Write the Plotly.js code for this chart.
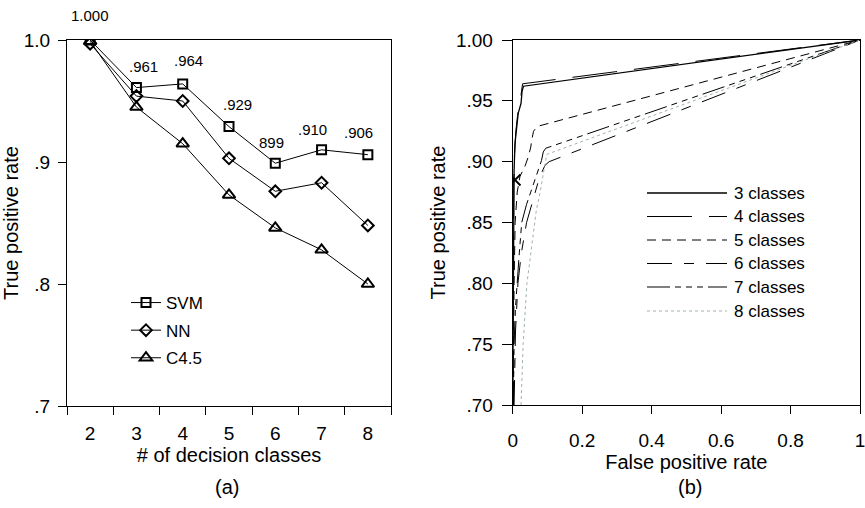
<!DOCTYPE html>
<html><head><meta charset="utf-8">
<script src="https://cdn.plot.ly/plotly-3.0.1.min.js"></script>
<style>html,body{margin:0;padding:0;background:#fff}#chart{width:865px;height:508px}</style>
</head><body><div id="chart"></div>
<script>
// ---- data: panel (a)
const classes = [2, 3, 4, 5, 6, 7, 8];
const svm = [1.000, 0.961, 0.964, 0.929, 0.899, 0.910, 0.906];
const nn  = [0.997, 0.954, 0.950, 0.903, 0.876, 0.883, 0.848];
const c45 = [0.999, 0.945, 0.915, 0.873, 0.846, 0.828, 0.800];
const svmLabels = ['1.000', '.961', '.964', '.929', '899', '.910', '.906'];
const yTicksA = [0.7, 0.8, 0.9, 1.0];
const yTickTextA = ['.7', '.8', '.9', '1.0'];

// ---- data: panel (b) ROC curves
const fpr3 = [0.000, 0.001, 0.002, 0.004, 0.0066, 0.0115, 0.016, 0.024, 0.027, 0.031, 1.0];
const tpr3 = [0.700, 0.800, 0.860, 0.893, 0.915, 0.929, 0.940, 0.948, 0.958, 0.962, 1.0];
const fpr4 = [0.000, 0.001, 0.003, 0.005, 0.009, 0.014, 0.021, 0.024, 0.0285, 1.0];
const tpr4 = [0.700, 0.820, 0.880, 0.905, 0.925, 0.938, 0.948, 0.955, 0.964, 1.0];
const fpr5 = [0.001, 0.002, 0.004, 0.007, 0.013, 0.021, 0.028, 0.035, 0.045, 0.052, 0.055, 0.060, 0.071, 1.0];
const tpr5 = [0.700, 0.760, 0.800, 0.850, 0.875, 0.888, 0.892, 0.896, 0.904, 0.912, 0.918, 0.925, 0.929, 1.0];
const fpr6 = [0.004, 0.008, 0.015, 0.025, 0.040, 0.052, 0.064, 0.075, 0.085, 0.093, 0.105, 1.0];
const tpr6 = [0.700, 0.760, 0.800, 0.825, 0.850, 0.862, 0.875, 0.885, 0.892, 0.897, 0.900, 1.0];
const fpr7 = [0.002, 0.004, 0.008, 0.012, 0.019, 0.026, 0.040, 0.052, 0.062, 0.074, 0.083, 0.088, 0.095, 1.0];
const tpr7 = [0.700, 0.750, 0.780, 0.800, 0.825, 0.850, 0.865, 0.875, 0.884, 0.893, 0.901, 0.908, 0.911, 1.0];
const fpr8 = [0.024, 0.030, 0.041, 0.055, 0.068, 0.079, 0.088, 0.093, 0.098, 1.0];
const tpr8 = [0.700, 0.750, 0.800, 0.830, 0.860, 0.875, 0.890, 0.900, 0.906, 1.0];
const markFpr = [0.0066];
const markTpr = [0.885];
const rocNames = ['3 classes', '4 classes', '5 classes', '6 classes', '7 classes', '8 classes'];
const yTicksB = [0.70, 0.75, 0.80, 0.85, 0.90, 0.95, 1.00];
const yTickTextB = ['.70', '.75', '.80', '.85', '.90', '.95', '1.00'];
const xTicksB = [0, 0.2, 0.4, 0.6, 0.8, 1];
const xTickTextB = ['0', '0.2', '0.4', '0.6', '0.8', '1'];

// ---- layout helpers / styles
const W = 865, H = 508;
const px = v => v / W;
const py = v => 1 - v / H;
const FONT = 'Liberation Sans, Arial, sans-serif';
const labelShiftX = [0, 7, 6, 8, -4, -9, -9];
const labelShiftY = [24, 21, 23, 22, 21, 20, 22];
const rocStyles = [
  {color: '#000', width: 1.3, dash: 'solid'},
  {color: '#000', width: 1, dash: '45px,17px'},
  {color: '#000', width: 1, dash: '9px,6px'},
  {color: '#000', width: 1, dash: '25px,12px,10px,12px'},
  {color: '#000', width: 1, dash: '23px,5px,6px,5px,6px,5px,6px,5px'},
  {color: '#9fb3a6', width: 1, dash: 'dot'}
];
const legRowY = [193, 216.5, 240, 263.5, 287, 311];

const rocX = [fpr3, fpr4, fpr5, fpr6, fpr7, fpr8];
const rocY = [tpr3, tpr4, tpr5, tpr6, tpr7, tpr8];

const traces = [
  {x: classes, y: svm, name: 'SVM', mode: 'lines+markers', legendgroup: 'a',
   line: {color: '#000', width: 1}, marker: {symbol: 'square-open', size: 9, color: '#000', line: {width: 2, color: '#000'}}},
  {x: classes, y: nn, name: 'NN', mode: 'lines+markers', legendgroup: 'b',
   line: {color: '#000', width: 1}, marker: {symbol: 'diamond-open', size: 9, color: '#000', line: {width: 2, color: '#000'}}},
  {x: classes, y: c45, name: 'C4.5', mode: 'lines+markers', legendgroup: 'c',
   line: {color: '#000', width: 1}, marker: {symbol: 'triangle-up-open', size: 11, color: '#000', line: {width: 2, color: '#000'}}}
];
rocNames.forEach((n, i) => {
  traces.push({x: rocX[i], y: rocY[i], name: n, mode: 'lines', xaxis: 'x2', yaxis: 'y2',
    showlegend: false, line: rocStyles[i]});
});
traces.push({x: markFpr, y: markTpr, mode: 'markers', xaxis: 'x2', yaxis: 'y2', showlegend: false,
  marker: {symbol: 'x-thin-open', size: 11, color: '#000', line: {width: 2, color: '#000'}}});

const annotations = svmLabels.map((t, i) => ({
  x: classes[i], y: svm[i], xref: 'x', yref: 'y', text: t, showarrow: false,
  xshift: labelShiftX[i], yshift: labelShiftY[i], font: {size: 15, color: '#000', family: FONT}
}));
annotations.push({x: px(227), y: py(487), xref: 'paper', yref: 'paper', xanchor: 'center', yanchor: 'middle',
  text: '(a)', showarrow: false, font: {size: 20, color: '#000', family: FONT}});
annotations.push({x: px(690), y: py(487), xref: 'paper', yref: 'paper', xanchor: 'center', yanchor: 'middle',
  text: '(b)', showarrow: false, font: {size: 20, color: '#000', family: FONT}});

const shapes = [];
rocNames.forEach((n, i) => {
  shapes.push({type: 'line', xref: 'paper', yref: 'paper', x0: px(647), x1: px(727),
    y0: py(legRowY[i]), y1: py(legRowY[i]), line: rocStyles[i]});
  annotations.push({x: px(732), y: py(legRowY[i]), xref: 'paper', yref: 'paper', xanchor: 'left',
    yanchor: 'middle', text: n, showarrow: false, font: {size: 17, color: '#000', family: FONT}});
});

const axBase = {showline: true, mirror: true, linecolor: '#000', linewidth: 1, showgrid: false,
  zeroline: false, tickcolor: '#000', tickfont: {size: 19, color: '#000', family: FONT}};

const layout = {
  width: W, height: H, margin: {l: 0, r: 0, t: 0, b: 0},
  paper_bgcolor: '#fff', plot_bgcolor: '#fff',
  font: {family: FONT, color: '#000'},
  showlegend: true,
  legend: {x: px(126), y: py(285), xanchor: 'left', yanchor: 'top', bgcolor: 'rgba(0,0,0,0)',
    font: {size: 17, color: '#000', family: FONT}, tracegroupgap: 2.5},
  xaxis: Object.assign({}, axBase, {domain: [px(67), px(391)], range: [1.5, 8.5],
    tickmode: 'array', tickvals: classes, ticks: '', ticklabelstandoff: 10,
    minor: {tickmode: 'array', tickvals: classes.map(c => c - 0.5).concat([8.5]), ticks: 'outside', ticklen: 8, tickcolor: '#000', showgrid: false},
    title: {text: '# of decision classes', standoff: 0, font: {size: 20, color: '#000', family: FONT}}}),
  yaxis: Object.assign({}, axBase, {domain: [py(406), py(40)], range: [0.7, 1.0],
    tickmode: 'array', tickvals: yTicksA, ticktext: yTickTextA, ticks: 'outside', ticklen: 8, ticklabelstandoff: 4,
    title: {text: 'True positive rate', standoff: 0, font: {size: 20, color: '#000', family: FONT}}}),
  xaxis2: Object.assign({}, axBase, {domain: [px(512.7), px(860)], range: [0, 1], anchor: 'y2',
    tickmode: 'array', tickvals: xTicksB, ticktext: xTickTextB, ticks: 'outside', ticklen: 8,
    ticklabelstandoff: 10, ticklabeloverflow: 'allow',
    title: {text: 'False positive rate', standoff: 0, font: {size: 20, color: '#000', family: FONT}}}),
  yaxis2: Object.assign({}, axBase, {domain: [py(405), py(40)], range: [0.7, 1.0], anchor: 'x2',
    tickmode: 'array', tickvals: yTicksB, ticktext: yTickTextB, ticks: 'outside', ticklen: 10, ticklabelstandoff: 5,
    title: {text: 'True positive rate', standoff: 4, font: {size: 20, color: '#000', family: FONT}}}),
  annotations: annotations,
  shapes: shapes
};

Plotly.newPlot('chart', traces, layout, {displayModeBar: false, staticPlot: true});
</script></body></html>
